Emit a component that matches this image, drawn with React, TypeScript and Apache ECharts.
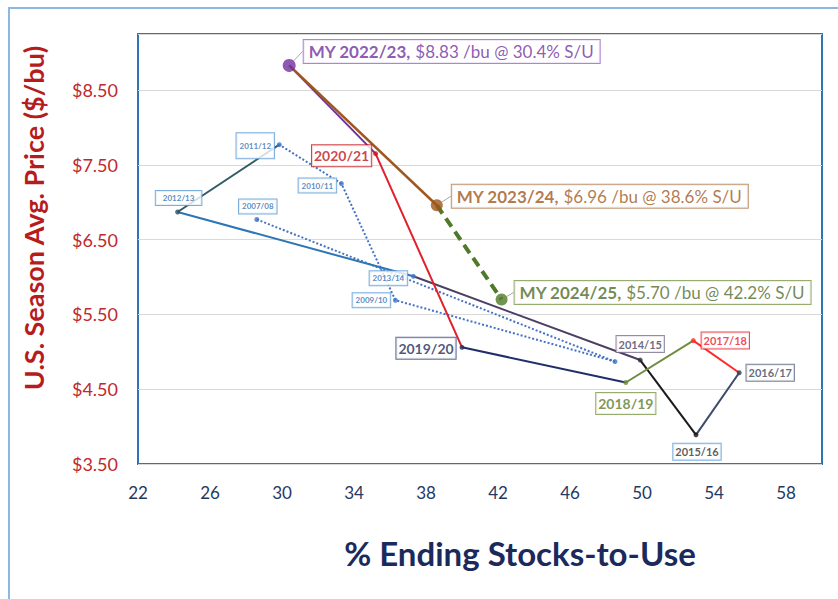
import React, { useEffect, useRef } from 'react';
import * as echarts from 'echarts';

// ---------- data ----------
const seasons = ['2007/08', '2008/09', '2009/10', '2010/11', '2011/12', '2012/13', '2013/14', '2014/15', '2015/16', '2016/17', '2017/18', '2018/19', '2019/20', '2020/21', '2022/23', '2023/24', '2024/25'];
const stocksToUse = [28.6, 48.5, 36.3, 33.3, 29.85, 24.2, 37.3, 49.9, 53.0, 55.4, 52.85, 49.1, 40.0, 35.2, 30.4, 38.6, 42.2];
const prices = [6.77, 4.87, 5.69, 7.25, 7.77, 6.87, 6.01, 4.89, 3.89, 4.72, 5.15, 4.59, 5.06, 7.65, 8.83, 6.96, 5.7];
const highlightSeasons = ['2022/23', '2023/24', '2024/25'];
const xAxisMin = 22;
const xAxisMax = 60;
const xAxisStep = 4;
const yAxisMin = 3.5;
const yAxisMax = 9.25;
const yAxisStep = 1;
const xAxisTitle = '% Ending Stocks-to-Use';
const yAxisTitle = 'U.S. Season Avg. Price ($/bu)';

// ---------- styles ----------
const FONT = 'Lato, "Open Sans", sans-serif';

type SegStyle = { from: string; to: string; color: string; width: number; type: any };
const segmentStyles: SegStyle[] = [
  { from: '2007/08', to: '2008/09', color: '#4472C4', width: 2, type: 'dotted' },
  { from: '2008/09', to: '2009/10', color: '#4472C4', width: 2, type: 'dotted' },
  { from: '2009/10', to: '2010/11', color: '#4472C4', width: 2, type: 'dotted' },
  { from: '2010/11', to: '2011/12', color: '#4472C4', width: 2, type: 'dotted' },
  { from: '2011/12', to: '2012/13', color: '#2F5A66', width: 2, type: 'solid' },
  { from: '2012/13', to: '2013/14', color: '#2E75B6', width: 2, type: 'solid' },
  { from: '2013/14', to: '2014/15', color: '#4B3F63', width: 2, type: 'solid' },
  { from: '2014/15', to: '2015/16', color: '#1A1A1A', width: 2, type: 'solid' },
  { from: '2015/16', to: '2016/17', color: '#3C4A6E', width: 2, type: 'solid' },
  { from: '2016/17', to: '2017/18', color: '#FF2A2A', width: 2, type: 'solid' },
  { from: '2017/18', to: '2018/19', color: '#6E8E3E', width: 2, type: 'solid' },
  { from: '2018/19', to: '2019/20', color: '#1F2F6A', width: 2, type: 'solid' },
  { from: '2019/20', to: '2020/21', color: '#E0202A', width: 2, type: 'solid' },
  { from: '2020/21', to: '2022/23', color: '#7030A0', width: 2, type: 'solid' },
  { from: '2022/23', to: '2023/24', color: '#A0571E', width: 2.5, type: 'solid' },
  { from: '2023/24', to: '2024/25', color: '#4E7A2A', width: 4, type: [10, 6] },
];

const smallLabel = (padding: number[] = [2, 3]) => ({
  show: true,
  position: 'inside',
  fontSize: 8,
  fontWeight: 'bold',
  fontFamily: FONT,
  color: '#2E6DB4',
  backgroundColor: '#ffffff',
  borderColor: '#5B9BD5',
  borderWidth: 1,
  padding,
  lineHeight: 10,
});

const boxLabel = (size: number, color: string, border: string, padding: number[]) => ({
  show: true,
  position: 'inside',
  fontSize: size,
  fontWeight: 'bold',
  fontFamily: FONT,
  color,
  backgroundColor: '#ffffff',
  borderColor: border,
  borderWidth: 1,
  padding,
  lineHeight: size + 2,
});

const myLabel = (color: string, border: string) => ({
  show: true,
  position: 'right',
  distance: 0,
  fontSize: 17,
  fontFamily: FONT,
  color,
  backgroundColor: '#ffffff',
  borderColor: border,
  borderWidth: 1,
  padding: [3, 6, 2, 5],
  lineHeight: 18,
  rich: { b: { fontWeight: 'bold', fontSize: 17, fontFamily: FONT, color, lineHeight: 18 } },
});

const pointStyles: Record<string, { color: string; size: number; dx: number; dy: number; label: any }> = {
  '2007/08': { color: '#4472C4', size: 5, dx: 1, dy: -13, label: smallLabel() },
  '2008/09': { color: '#4472C4', size: 5, dx: 0, dy: 0, label: { show: false } },
  '2009/10': { color: '#4472C4', size: 5, dx: -24, dy: 0, label: smallLabel() },
  '2010/11': { color: '#4472C4', size: 5, dx: -24, dy: 2, label: smallLabel() },
  '2011/12': { color: '#4472C4', size: 5, dx: -24, dy: 1, label: smallLabel([2, 3, 13, 3]) },
  '2012/13': { color: '#2F4F5F', size: 5, dx: 1, dy: -14, label: smallLabel([2, 7]) },
  '2013/14': { color: '#4472C4', size: 5, dx: -25, dy: 2, label: smallLabel() },
  '2014/15': { color: '#2D2D3D', size: 5, dx: 0, dy: -16, label: boxLabel(11, '#4A3F5C', '#7B6E8E', [2, 2, 1, 2]) },
  '2015/16': { color: '#1A1A1A', size: 5, dx: 1, dy: 17, label: boxLabel(11, '#333333', '#5B9BD5', [2, 2, 1, 2]) },
  '2016/17': { color: '#2F3F5F', size: 5, dx: 31, dy: 0, label: boxLabel(11, '#3B4660', '#55607A', [2, 2, 1, 2]) },
  '2017/18': { color: '#FF2A2A', size: 5, dx: 32, dy: 0, label: boxLabel(11, '#E8202A', '#E8202A', [2, 2, 1, 2]) },
  '2018/19': { color: '#6E8E3E', size: 5, dx: 0, dy: 21, label: boxLabel(14, '#5E7A2E', '#7A9A4A', [3, 2, 2, 2]) },
  '2019/20': { color: '#1F2F5A', size: 5, dx: -36, dy: 1, label: boxLabel(14, '#1F2D5A', '#3A4A7A', [3, 2, 2, 2]) },
  '2020/21': { color: '#D0101A', size: 5, dx: -34, dy: 2, label: boxLabel(14, '#C0141E', '#C0141E', [3, 2, 2, 2]) },
  '2022/23': { color: '#7030A0', size: 13, dx: 8, dy: -14, label: myLabel('#7030A0', '#9966CC') },
  '2023/24': { color: '#9C5518', size: 12, dx: 9, dy: -9, label: myLabel('#A0571E', '#B07A50') },
  '2024/25': { color: '#4F7A28', size: 12, dx: 7, dy: -7, label: myLabel('#4F6B28', '#7A9A4A') },
};

export default function App() {
  const ref = useRef<HTMLDivElement>(null);

  useEffect(() => {
    if (!ref.current) return;
    const chart = echarts.init(ref.current, undefined, { renderer: 'svg' });

    const idx = (s: string) => seasons.indexOf(s);

    const lineSeries = segmentStyles.map((seg) => ({
      type: 'line',
      name: `${seg.from} → ${seg.to}`,
      data: [
        [stocksToUse[idx(seg.from)], prices[idx(seg.from)]],
        [stocksToUse[idx(seg.to)], prices[idx(seg.to)]],
      ],
      showSymbol: false,
      symbol: 'none',
      silent: true,
      z: 2,
      lineStyle: { color: seg.color, width: seg.width, type: seg.type },
    }));

    const scatterData = seasons.map((s, i) => {
      const st = pointStyles[s];
      const isMY = highlightSeasons.includes(s);
      const label = { ...st.label };
      if (isMY) {
        label.formatter = `{b|MY ${s},} $${prices[i].toFixed(2)} /bu @ ${stocksToUse[i].toFixed(1)}% S/U`;
      } else {
        label.formatter = s;
      }
      const item: any = {
        name: s,
        value: [stocksToUse[i], prices[i]],
        symbolSize: st.size,
        itemStyle: { color: st.color },
        label,
      };
      if (isMY) {
        item.labelLine = { show: true, lineStyle: { color: '#A6A6A6', width: 1 } };
      }
      return item;
    });

    chart.setOption({
      animation: false,
      backgroundColor: '#ffffff',
      textStyle: { fontFamily: FONT },
      graphic: [
        {
          type: 'rect',
          silent: true,
          z: 0,
          shape: { x: 9, y: 8, width: 900, height: 700 },
          style: { fill: 'none', stroke: '#8DB8E2', lineWidth: 2 },
        },
      ],
      grid: {
        left: 138,
        top: 34,
        width: 684,
        height: 430,
        show: true,
        borderColor: '#2E75B6',
        borderWidth: 2,
        backgroundColor: 'transparent',
      },
      xAxis: {
        type: 'value',
        min: xAxisMin,
        max: xAxisMax,
        interval: xAxisStep,
        name: xAxisTitle,
        nameLocation: 'middle',
        nameGap: 72,
        nameTextStyle: { fontSize: 33, fontWeight: 'bold', color: '#1B2A5C', fontFamily: FONT, padding: [0, 0, 0, 80] },
        axisLine: { show: false },
        axisTick: { show: false },
        splitLine: { show: false },
        axisLabel: { fontSize: 17, color: '#1F3864', margin: 20, showMaxLabel: false, fontFamily: FONT },
      },
      yAxis: {
        type: 'value',
        min: yAxisMin,
        max: yAxisMax,
        interval: yAxisStep,
        name: yAxisTitle,
        nameLocation: 'middle',
        nameGap: 91,
        nameTextStyle: { fontSize: 27, fontWeight: 'bold', color: '#B71C1C', fontFamily: FONT, padding: [0, 0, 0, 62] },
        axisLine: { show: false },
        axisTick: { show: false },
        splitLine: { show: true, lineStyle: { color: '#D9D9D9', width: 1 } },
        axisLabel: {
          fontSize: 18,
          color: '#C0282D',
          margin: 20,
          showMaxLabel: false,
          fontFamily: FONT,
          formatter: (v: number) => '$' + v.toFixed(2),
        },
      },
      series: [
        ...lineSeries,
        {
          type: 'scatter',
          name: 'Seasons',
          z: 5,
          data: scatterData,
          labelLayout: (params: any) => {
            const st = pointStyles[seasons[params.dataIndex]];
            return { dx: st.dx, dy: st.dy, hideOverlap: false };
          },
        },
      ],
    });

    return () => chart.dispose();
  }, []);

  return <div ref={ref} style={{ position: 'absolute', left: 0, top: 0, width: 838, height: 599 }} />;
}
